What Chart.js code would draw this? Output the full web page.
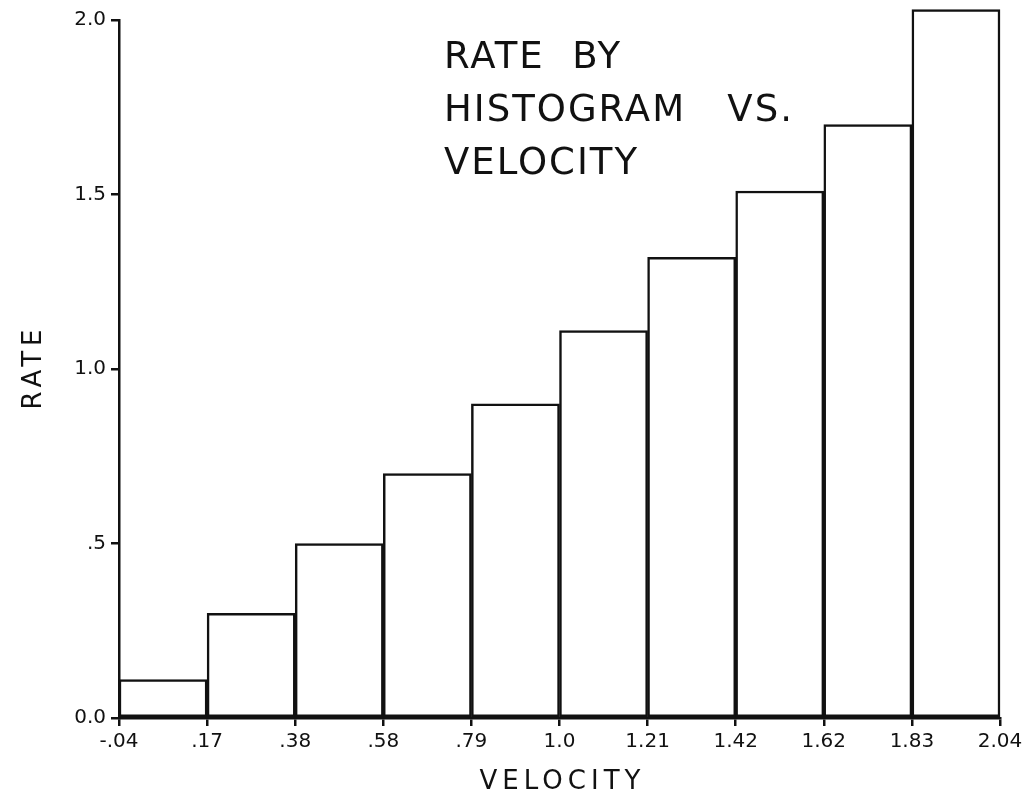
<!DOCTYPE html>
<html>
<head>
<meta charset="utf-8">
<script src="https://cdn.jsdelivr.net/npm/chart.js@4.4.1/dist/chart.umd.min.js"></script>
<style>
  html, body { margin: 0; padding: 0; background: #fff; }
  #wrap { width: 1032px; height: 796px; }
</style>
</head>
<body>
<div id="wrap"><canvas id="histChart" width="1032" height="796"></canvas></div>
<script>
// bin edges as printed on the x axis
const binEdges = ['-.04', '.17', '.38', '.58', '.79', '1.0', '1.21', '1.42', '1.62', '1.83', '2.04'];
// rate for each bin
const rates = [0.11, 0.30, 0.50, 0.70, 0.90, 1.11, 1.32, 1.51, 1.70, 2.03];
const yTickLabels = { 0: '0.0', 0.5: '.5', 1: '1.0', 1.5: '1.5', 2: '2.0' };
const titleLines = ['RATE  BY', 'HISTOGRAM   VS.', 'VELOCITY'];

const FONT = "'DejaVu Sans', sans-serif";

// title text sits inside the plot area, axis titles get letter spacing
const textPlugin = {
    id: 'textBits',
    afterDraw(chart) {
        const ctx = chart.ctx;
        const area = chart.chartArea;
        ctx.save();
        ctx.fillStyle = '#111';
        ctx.font = '37px ' + FONT;
        ctx.letterSpacing = '2px';
        ctx.textBaseline = 'alphabetic';
        ctx.textAlign = 'left';
        titleLines.forEach((line, i) => {
            ctx.fillText(line, area.left + 325, area.top + 48 + i * 53);
        });

        ctx.font = '26px ' + FONT;
        ctx.letterSpacing = '5px';
        ctx.textAlign = 'center';
        ctx.fillText('VELOCITY', (area.left + area.right) / 2 + 3, 789);

        ctx.translate(41, 367);
        ctx.rotate(-Math.PI / 2);
        ctx.fillText('RATE', 0, 0);
        ctx.restore();
    }
};

const ctx = document.getElementById('histChart').getContext('2d');
new Chart(ctx, {
    type: 'bar',
    data: {
        datasets: [{
            label: 'Rate',
            data: rates.map((r, i) => ({ x: i + 0.5, y: r })),
            backgroundColor: '#fff',
            borderColor: '#111',
            borderWidth: 2.5,
            borderSkipped: false,
            barPercentage: 1,
            categoryPercentage: 1,
            clip: false
        }]
    },
    options: {
        responsive: false,
        animation: false,
        layout: { padding: { top: 20, right: 32, left: 0, bottom: 0 } },
        plugins: {
            legend: { display: false },
            tooltip: { enabled: false }
        },
        scales: {
            x: {
                type: 'linear',
                offset: false,
                min: 0,
                max: 10,
                afterFit(scale) { scale.height = 78; },
                afterBuildTicks(scale) {
                    scale.ticks = binEdges.map((_, i) => ({ value: i }));
                },
                ticks: {
                    callback: (v) => binEdges[v],
                    color: '#111',
                    font: { family: FONT, size: 20 },
                    padding: 4,
                    maxRotation: 0,
                    autoSkip: false
                },
                grid: { offset: false, drawOnChartArea: false, drawTicks: true, tickLength: 8, color: '#111', lineWidth: 2.5 },
                border: { display: true, color: '#111', width: 2.5 }
            },
            y: {
                min: 0,
                max: 2.0,
                afterFit(scale) { scale.width = 119; },
                afterBuildTicks(scale) {
                    scale.ticks = [0, 0.5, 1, 1.5, 2].map(v => ({ value: v }));
                },
                ticks: {
                    callback: (v) => yTickLabels[v],
                    color: '#111',
                    font: { family: FONT, size: 20 },
                    padding: 5
                },
                grid: { drawOnChartArea: false, drawTicks: true, tickLength: 8, color: '#111', lineWidth: 2.5 },
                border: { display: true, color: '#111', width: 2.5 }
            }
        }
    },
    plugins: [textPlugin]
});
</script>
</body>
</html>
